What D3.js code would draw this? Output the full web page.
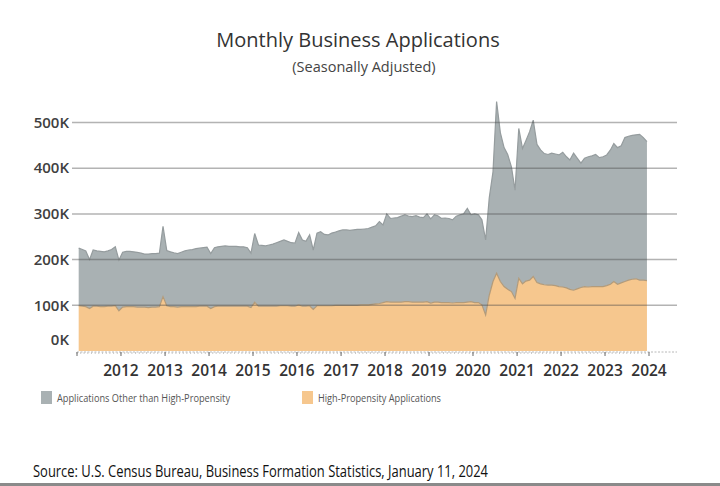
<!DOCTYPE html>
<html>
<head>
<meta charset="utf-8">
<script src="https://cdn.jsdelivr.net/npm/d3@7"></script>
<style>
  body { margin: 0; background: #fff; }
  text { font-family: "Open Sans", "Noto Sans", sans-serif; }
</style>
</head>
<body>
<svg id="chart" width="720" height="486"></svg>
<script>
// Monthly values (thousands), Jan 2011 .. Dec 2023
const totalApps = [
  225, 222, 219, 200, 221, 219, 218, 217, 219, 222, 228, 199, // 2011
  216, 218, 218, 217, 216, 214, 212, 212, 213, 213, 214, 273, // 2012
  220, 217, 215, 213, 216, 219, 221, 222, 224, 225, 226, 227, // 2013
  213, 226, 228, 229, 230, 229, 229, 229, 228, 228, 226, 214, // 2014
  257, 232, 231, 230, 232, 234, 237, 240, 243, 240, 237, 236, // 2015
  259, 243, 240, 254, 221, 258, 261, 255, 254, 258, 260, 263, // 2016
  265, 265, 264, 265, 266, 266, 267, 268, 271, 274, 283, 276, // 2017
  300, 290, 291, 292, 295, 298, 295, 294, 296, 293, 292, 300, // 2018
  289, 298, 296, 290, 291, 290, 287, 295, 298, 300, 312, 298, // 2019
  300, 298, 287, 243, 335, 392, 546, 478, 445, 430, 403, 352, // 2020
  487, 443, 460, 480, 505, 452, 440, 432, 430, 433, 431, 429, // 2021
  435, 425, 418, 433, 422, 411, 422, 425, 427, 430, 423, 425, // 2022
  429, 440, 454, 445, 449, 467, 470, 472, 473, 474, 467, 458  // 2023
];
const highPropensity = [
  99, 98, 97, 93, 98, 98, 97, 97, 98, 98, 99, 88,
  96, 97, 97, 97, 96, 96, 96, 95, 96, 96, 97, 119,
  99, 97, 97, 96, 97, 97, 97, 97, 97, 98, 98, 98,
  93, 97, 98, 98, 98, 98, 98, 98, 98, 98, 98, 95,
  107, 98, 98, 98, 98, 98, 98, 99, 99, 99, 98, 98,
  101, 98, 98, 99, 91, 99, 99, 99, 99, 99, 100, 100,
  100, 100, 100, 100, 100, 101, 101, 101, 102, 103, 104, 106,
  108, 107, 107, 107, 107, 108, 108, 107, 107, 107, 107, 108,
  105, 107, 107, 106, 106, 106, 105, 106, 106, 106, 107, 108,
  106, 106, 101, 79, 122, 152, 170, 152, 141, 135, 130, 115,
  159, 147, 153, 155, 163, 150, 147, 145, 144, 144, 143, 141,
  140, 138, 135, 133, 136, 139, 141, 140, 141, 141, 141, 141,
  143, 146, 152, 146, 149, 152, 155, 157, 158, 155, 155, 154
];
const yTicks = [0, 100000, 200000, 300000, 400000, 500000];
const yearLabels = [2012, 2013, 2014, 2015, 2016, 2017, 2018, 2019, 2020, 2021, 2022, 2023, 2024];
const seriesNames = ["Applications Other than High-Propensity", "High-Propensity Applications"];
const seriesColors = ["#a9b1b3", "#f6c78e"];

const months = d3.timeMonth.range(new Date(2011, 0, 1), new Date(2024, 0, 1));
const rows = months.map((m, i) => ({
  date: d3.timeDay.offset(m, 14),
  hp: highPropensity[i] * 1000,
  other: (totalApps[i] - highPropensity[i]) * 1000
}));

const svg = d3.select("#chart");

const x = d3.scaleTime()
  .domain([new Date(2011, 0, 1), new Date(2024, 0, 1)])
  .range([77, 649]);
const y = d3.scaleLinear().domain([0, 500000]).range([351, 122.5]);

const stack = d3.stack().keys(["hp", "other"]);
const layers = stack(rows);

const area = d3.area()
  .x(d => x(d.data.date))
  .y0(d => y(d[0]))
  .y1(d => y(d[1]));
const topLine = d3.line()
  .x(d => x(d.data.date))
  .y(d => y(d[1]));

// areas (other first so it sits behind? both stacked so order doesn't matter)
svg.append("g").selectAll("path")
  .data(layers)
  .join("path")
  .attr("d", area)
  .attr("fill", (d, i) => i === 0 ? seriesColors[1] : seriesColors[0]);

svg.append("g").selectAll("path")
  .data(layers)
  .join("path")
  .attr("d", topLine)
  .attr("fill", "none")
  .attr("stroke", (d, i) => i === 0 ? "#b39b7a" : "#959c9e")
  .attr("stroke-width", 1.2);

// gridlines drawn over the areas
svg.append("g").selectAll("line")
  .data(yTicks.filter(t => t > 0))
  .join("line")
  .attr("x1", 72).attr("x2", 677)
  .attr("y1", d => y(d)).attr("y2", d => y(d))
  .attr("stroke", "#4a4a4a")
  .attr("stroke-opacity", 0.42)
  .attr("stroke-width", 1.5);

// y labels
svg.append("g").selectAll("text")
  .data(yTicks)
  .join("text")
  .attr("x", 69)
  .attr("y", d => y(d) - (d === 0 ? 11 : 0))
  .attr("dy", "0.35em")
  .attr("text-anchor", "end")
  .attr("font-size", 15)
  .attr("font-weight", 600)
  .attr("fill", "#404040")
  .text(d => d3.format("d")(d / 1000) + "K");

// x axis: dotted baseline, monthly minor ticks, yearly ticks
svg.append("line")
  .attr("x1", 77).attr("x2", 677)
  .attr("y1", 352).attr("y2", 352)
  .attr("stroke", "#b8b8b8")
  .attr("stroke-dasharray", "2,1.5");
svg.append("g").selectAll("line")
  .data(months)
  .join("line")
  .attr("x1", d => x(d)).attr("x2", d => x(d))
  .attr("y1", 352).attr("y2", 354)
  .attr("stroke", "#c8c8c8");
svg.append("g").selectAll("line")
  .data(d3.timeYear.range(new Date(2011, 0, 1), new Date(2024, 0, 2)))
  .join("line")
  .attr("x1", d => x(d)).attr("x2", d => x(d))
  .attr("y1", 352).attr("y2", 356)
  .attr("stroke", "#666");

svg.append("g").selectAll("text")
  .data(yearLabels)
  .join("text")
  .attr("x", d => x(new Date(d, 0, 1)))
  .attr("y", 371)
  .attr("dy", "0.35em")
  .attr("text-anchor", "middle")
  .attr("font-size", 15.5)
  .attr("font-weight", 600)
  .attr("fill", "#333")
  .text(d => d);

// title
svg.append("text")
  .attr("x", 358).attr("y", 40).attr("dy", "0.35em")
  .attr("text-anchor", "middle")
  .attr("font-size", 20)
  .attr("fill", "#333")
  .text("Monthly Business Applications");
svg.append("text")
  .attr("x", 364).attr("y", 67).attr("dy", "0.35em")
  .attr("text-anchor", "middle")
  .attr("font-size", 14.5)
  .attr("fill", "#444")
  .text("(Seasonally Adjusted)");

// legend
const legendX = [41, 302];
const legendW = [173, 123];
const legend = svg.append("g").selectAll("g")
  .data(seriesNames)
  .join("g")
  .attr("transform", (d, i) => `translate(${legendX[i]},391)`);
legend.append("rect")
  .attr("width", 11).attr("height", 13)
  .attr("fill", (d, i) => seriesColors[i]);
legend.append("text")
  .attr("x", 16).attr("y", 7).attr("dy", "0.35em")
  .attr("font-size", 10.5)
  .attr("fill", "#555")
  .attr("textLength", (d, i) => legendW[i])
  .attr("lengthAdjust", "spacingAndGlyphs")
  .text(d => d);

// source note
svg.append("text")
  .attr("x", 33).attr("y", 471).attr("dy", "0.35em")
  .attr("font-size", 16.5)
  .attr("fill", "#111")
  .attr("textLength", 455)
  .attr("lengthAdjust", "spacingAndGlyphs")
  .text("Source: U.S. Census Bureau, Business Formation Statistics, January 11, 2024");

svg.append("rect")
  .attr("x", 0).attr("y", 483).attr("width", 720).attr("height", 3)
  .attr("fill", "#8a8a8a");
</script>
</body>
</html>
